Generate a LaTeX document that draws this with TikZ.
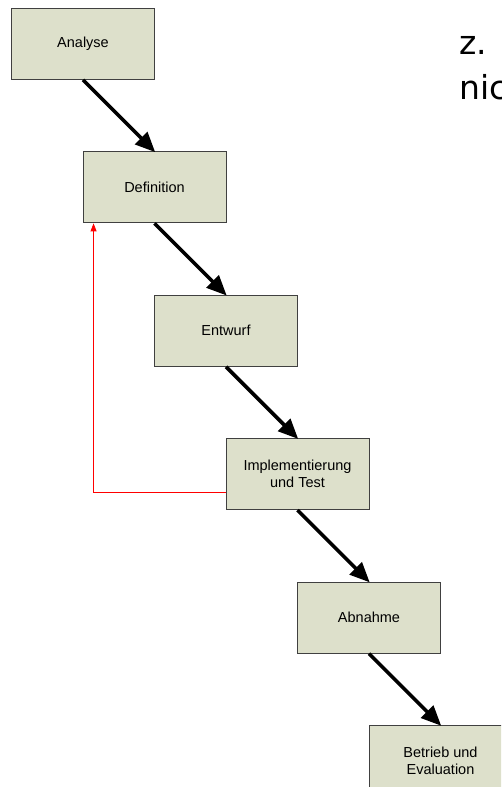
\documentclass[tikz,border=0pt]{standalone}
\usepackage{fontspec}
\setmainfont{Liberation Sans}
\newfontfamily\notefont{DejaVu Sans}
\usetikzlibrary{positioning,arrows.meta}
\definecolor{phasefill}{HTML}{DDE0CB}
\definecolor{phaseline}{HTML}{404040}
\tikzset{
  phase/.style={draw=phaseline, line width=0.9pt, fill=phasefill, minimum width=143pt,
    minimum height=71pt, align=center, font=\fontsize{14.5}{17}\selectfont, inner sep=2pt},
  flow/.style={line width=3.6pt, -{Triangle[length=20pt,width=17pt]}, shorten >=-1pt},
  feedback/.style={red, line width=0.8pt, -{Triangle[length=8pt,width=6pt]}},
  note/.style={anchor=base west, inner sep=0pt, font=\notefont\fontsize{33}{45}\selectfont}
}
\begin{document}
\begin{tikzpicture}
  \useasboundingbox (0,0) rectangle (501pt,-787pt);
  \clip (0,0) rectangle (501pt,-787pt);
  % phases of the waterfall
  \node[phase] (analyse) at (83pt,-44pt) {Analyse};
  \node[phase, below=71.5pt of analyse, xshift=71.5pt] (definition) {Definition};
  \node[phase, below=71.5pt of definition, xshift=71.5pt] (entwurf) {Entwurf};
  \node[phase, below=71.5pt of entwurf, xshift=71.5pt] (impl) {Implementierung\\und Test};
  \node[phase, below=71.5pt of impl, xshift=71.5pt] (abnahme) {Abnahme};
  \node[phase, below=71.5pt of abnahme, xshift=71.5pt] (betrieb) {Betrieb und\\Evaluation};
  % flow downwards
  \foreach \from/\to in {analyse/definition, definition/entwurf, entwurf/impl, impl/abnahme, abnahme/betrieb}
    \draw[flow] (\from.south) -- (\to.north);
  % back from test to definition
  \coordinate (back) at ([yshift=-18pt]impl.west);
  \coordinate (defin) at ([xshift=11pt]definition.south west);
  \draw[feedback] (back) -| (defin);
  % cut-off text on the right
  \node[note] (noteone) at (459pt,-54pt) {z. B.};
  \node[note] (notetwo) at (459pt,-99pt) {nicht};
\end{tikzpicture}
\end{document}
